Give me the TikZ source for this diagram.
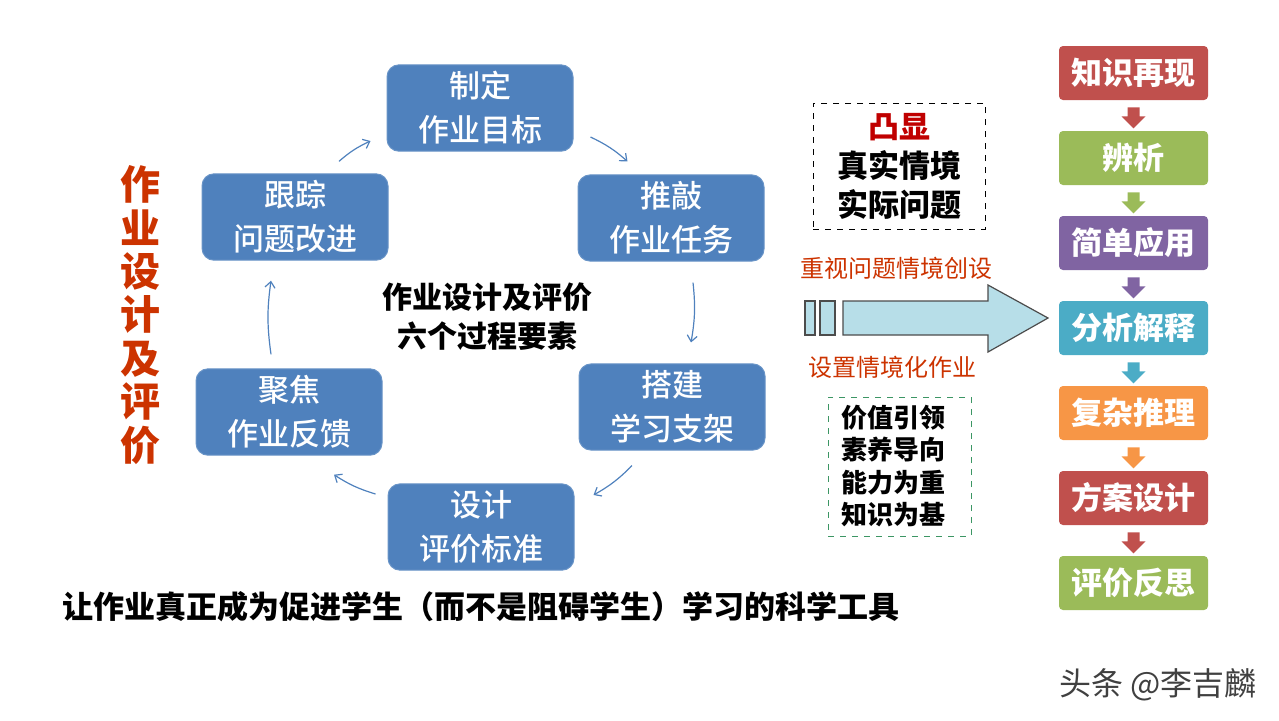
\documentclass[tikz,border=0pt]{standalone}
\usepackage{fontspec}
\setmainfont{Noto Sans CJK SC}
\newfontfamily\medfont{Noto Sans CJK SC Medium}
\usetikzlibrary{arrows.meta,calc}

\definecolor{stepblue}{RGB}{79,129,189}
\definecolor{titlered}{RGB}{204,51,0}
\definecolor{hotred}{RGB}{192,0,0}
\definecolor{arrowcyan}{RGB}{183,222,232}
\definecolor{dashgreen}{RGB}{60,150,100}
\definecolor{lvred}{RGB}{192,80,77}
\definecolor{lvgreen}{RGB}{155,187,89}
\definecolor{lvpurple}{RGB}{128,100,162}
\definecolor{lvaqua}{RGB}{75,172,198}
\definecolor{lvorange}{RGB}{247,150,70}

\tikzset{
  stepbox/.style={rounded corners=6pt, fill=stepblue, draw=stepblue!85!white, line width=0.5pt,
    minimum width=93pt, minimum height=43pt, text=white, align=center,
    font=\fontsize{15.5}{22}\selectfont\medfont},
  cyc/.style={-{Straight Barb[length=3pt,width=5pt]}, draw=stepblue, line width=0.6pt},
  levelbox/.style={rounded corners=2pt, minimum width=74.5pt, minimum height=27pt,
    text=white, font=\fontsize{15.5}{18}\selectfont\bfseries},
}

\begin{document}
\begin{tikzpicture}[x=0.5pt, y=-0.5pt, >=Stealth]
    \useasboundingbox (0,0) rectangle (1279,720);

    % Six process elements in a ring
    \node[stepbox] (zd) at (480,108) {制定\\作业目标};
    \node[stepbox] (tq) at (671,218) {推敲\\作业任务};
    \node[stepbox] (dj) at (672,407) {搭建\\学习支架};
    \node[stepbox] (sj) at (481,527) {设计\\评价标准};
    \node[stepbox] (jj) at (289,412) {聚焦\\作业反馈};
    \node[stepbox] (gz) at (295,217) {跟踪\\问题改进};

    \draw[cyc] ([shift={(17,29)}]zd.east) to[bend left=8] ([shift={(50,-13)}]tq.north west);
    \draw[cyc] ([shift={(22,21)}]tq.south) to[bend left=8] ([shift={(19,-21)}]dj.north);
    \draw[cyc] ([shift={(-40,15)}]dj.south) to[bend left=8] ([shift={(19,-32)}]sj.east);
    \draw[cyc] ([shift={(-12,-33)}]sj.west) to[bend left=8] ([shift={(45,19)}]jj.south);
    \draw[cyc] ([shift={(-18,-14)}]jj.north) to[bend left=8] ([shift={(-24,20)}]gz.south);
    \draw[cyc] ([shift={(44,-12)}]gz.north) to[bend left=8] ([shift={(-16,33)}]zd.west);

    \node[font=\fontsize{15}{19.5}\selectfont\bfseries, align=center] (mid) at (487,317) {作业设计及评价\\六个过程要素};

    % Vertical title
    \node[text=titlered, font=\fontsize{20}{21.7}\selectfont\bfseries, align=center] (title) at (140,315)
        {作\\业\\设\\计\\及\\评\\价};

    \node[font=\fontsize{15.5}{18}\selectfont\bfseries] (goal) at (481,607)
        {让作业真正成为促进学生（而不是阻碍学生）学习的科学工具};

    % Middle column: situation boxes and block arrow
    \node[draw, dashed, line width=0.5pt, minimum width=86pt, minimum height=63pt, align=center,
        font=\fontsize{15.5}{19.5}\selectfont\bfseries] (real) at (899,166)
        {\textcolor{hotred}{凸显}\\真实情境\\实际问题};

    \node[text=titlered, font=\fontsize{12}{14}\selectfont] (lab1) at (896,268) {重视问题情境创设};
    \node[text=titlered, font=\fontsize{12}{14}\selectfont] (lab2) at (892,367) {设置情境化作业};

    \draw[line width=0.6pt, draw=black!70, fill=arrowcyan] (805,301) rectangle (815,335);
    \draw[line width=0.6pt, draw=black!70, fill=arrowcyan] (820,301) rectangle (835,335);
    \draw[line width=0.6pt, draw=black!70, fill=arrowcyan]
        (843,301) -- (988,301) -- (988,285) -- (1048,318) -- (988,352) -- (988,335) -- (843,335) -- cycle;

    \node[draw=dashgreen, dashed, line width=0.5pt, minimum width=71.5pt, minimum height=69.5pt] (core) at (899.5,466.5) {};
    \node[anchor=west, align=left, font=\fontsize{13}{16.2}\selectfont\bfseries] (coretext) at (834,466)
        {价值引领\\素养导向\\能力为重\\知识为基};

    % Right column: ability levels
    \foreach \name/\txt/\col [count=\i from 0] in {zs/知识再现/lvred, bx/辨析/lvgreen, jd/简单应用/lvpurple,
        fx/分析解释/lvaqua, fz/复杂推理/lvorange, fa/方案设计/lvred, pj/评价反思/lvgreen}
        \node[levelbox, fill=\col] (\name) at (1133.5,{73+85*\i}) {\txt};

    \foreach \a/\col in {zs/lvred, bx/lvgreen, jd/lvpurple, fx/lvaqua, fz/lvorange, fa/lvred}
        \fill[\col] ([shift={(-6,7)}]\a.south) -- ++(12,0) -- ++(0,9) -- ++(6,0) -- ++(-12,12)
            -- ++(-12,-12) -- ++(6,0) -- cycle;

    \node[text=black!75, font=\fontsize{16}{18}\selectfont] (mark) at (1158,685) {头条 @李吉麟};
\end{tikzpicture}
\end{document}
